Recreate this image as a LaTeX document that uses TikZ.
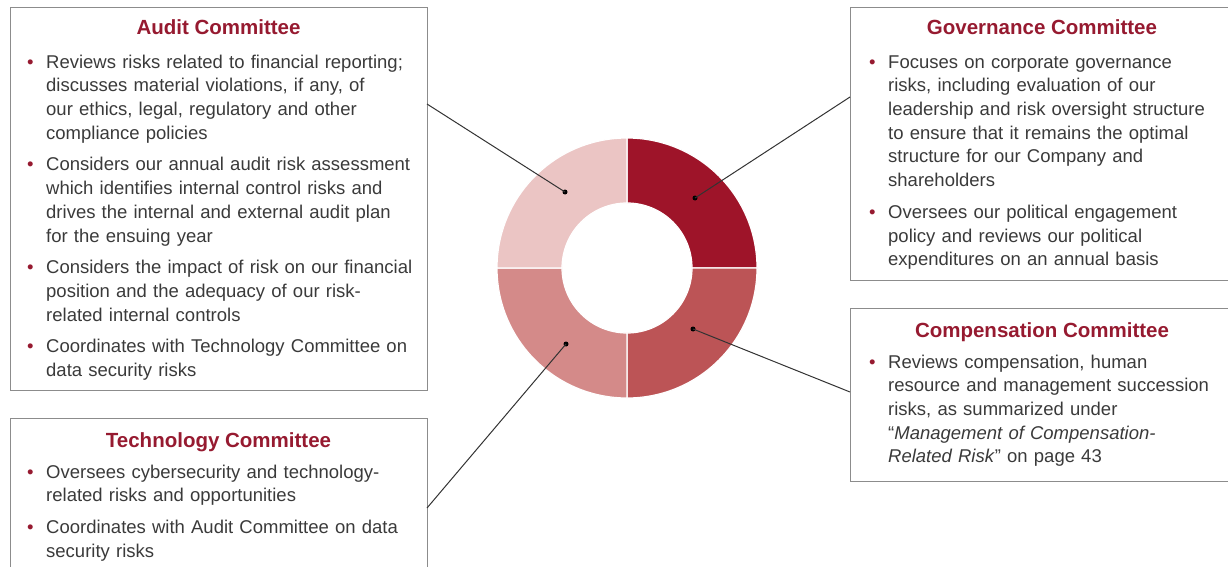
\documentclass[tikz,border=0pt]{standalone}
\usepackage{fontspec}
\setmainfont{Liberation Sans}
\usepackage{tikz}
\usetikzlibrary{calc}
\definecolor{riskred}{HTML}{961A30}
\definecolor{textgray}{HTML}{3A3A3A}
\definecolor{framegray}{HTML}{8C8C8C}
\definecolor{quadA}{HTML}{9E1429}
\definecolor{quadB}{HTML}{BC5456}
\definecolor{quadC}{HTML}{D48A89}
\definecolor{quadD}{HTML}{EBC5C4}
\newcommand\riskitem[1]{%
  \hangindent=19pt\hangafter=1\noindent
  \makebox[19pt][l]{\textcolor{riskred}{\textbullet}}\strut#1\par}
\newcommand\itemgap{\vspace{8pt}}

\begin{document}
\begin{tikzpicture}[x=1pt, y=-1pt,
  box/.style = {draw=framegray, line width=1.2pt, anchor=north west, inner sep=0},
  title/.style = {anchor=base, inner sep=0, text=riskred, font=\fontsize{20.5}{24}\selectfont\bfseries},
  body/.style = {anchor=north west, inner sep=0, text=textgray, text width=395pt, font=\fontsize{18.5}{23.7}\selectfont},
  dot/.style = {circle, fill=black, inner sep=0, minimum size=5pt},
  link/.style = {draw=black!80, line width=1pt}]
	\useasboundingbox (0,0) rectangle (1228,567);
	% donut
	\coordinate (hub) at (627,268);
	\foreach \a/\c in {-90/quadA, 0/quadB, 90/quadC, 180/quadD}
	  \fill[\c, draw=white, line width=1.2pt] ($(hub)+(\a:130)$) arc[start angle=\a, end angle=\a+90, radius=130]
	    -- ($(hub)+(\a+90:65)$) arc[start angle=\a+90, end angle=\a, radius=65] -- cycle;
	% boxes
	\node[box, minimum width=417pt, minimum height=383pt] (audit) at (10,7) {};
	\node[box, minimum width=400pt, minimum height=273pt] (gov) at (850,7) {};
	\node[box, minimum width=400pt, minimum height=173pt] (comp) at (850,308) {};
	\node[box, minimum width=417pt, minimum height=170pt] (tech) at (10,418) {};
	\node[title] (auditT) at (218.5,35) {Audit Committee};
	\node[title] (govT) at (1042,35) {Governance Committee};
	\node[title] (compT) at (1042,337) {Compensation Committee};
	\node[title] (techT) at (218.5,447) {Technology Committee};
	\node[body] (auditB) at (27,51.4) {%
	  \riskitem{Reviews risks related to financial reporting;\newline discusses material violations, if any, of\newline our ethics, legal, regulatory and other\newline compliance policies}\itemgap
	  \riskitem{Considers our annual audit risk assessment\newline which identifies internal control risks and\newline drives the internal and external audit plan\newline for the ensuing year}\itemgap
	  \riskitem{Considers the impact of risk on our financial\newline position and the adequacy of our risk-\newline related internal controls}\itemgap
	  \riskitem{Coordinates with Technology Committee on\newline data security risks}};
	\node[body, text width=360pt] (govB) at (869,51.4) {%
	  \riskitem{Focuses on corporate governance\newline risks, including evaluation of our\newline leadership and risk oversight structure\newline to ensure that it remains the optimal\newline structure for our Company and\newline shareholders}\itemgap
	  \riskitem{Oversees our political engagement\newline policy and reviews our political\newline expenditures on an annual basis}};
	\node[body, text width=360pt] (compB) at (869,351.4) {%
	  \riskitem{Reviews compensation, human\newline resource and management succession\newline risks, as summarized under\newline “\textit{Management of Compensation-}\newline \textit{Related Risk}” on page 43}};
	\node[body] (techB) at (27,461.4) {%
	  \riskitem{Oversees cybersecurity and technology-\newline related risks and opportunities}\itemgap
	  \riskitem{Coordinates with Audit Committee on data\newline security risks}};
	% leader lines
	\node[dot] (auditD) at (565,192) {};
	\node[dot] (govD) at (695,198) {};
	\node[dot] (compD) at (693,329) {};
	\node[dot] (techD) at (566,344) {};
	\coordinate (auditE) at (427,104);
	\coordinate (govE) at (850,97);
	\coordinate (compE) at (850,392);
	\coordinate (techE) at (427,508);
	\draw[link] (auditE) -- (auditD.center);
	\draw[link] (govE) -- (govD.center);
	\draw[link] (compE) -- (compD.center);
	\draw[link] (techE) -- (techD.center);
\end{tikzpicture}
\end{document}
